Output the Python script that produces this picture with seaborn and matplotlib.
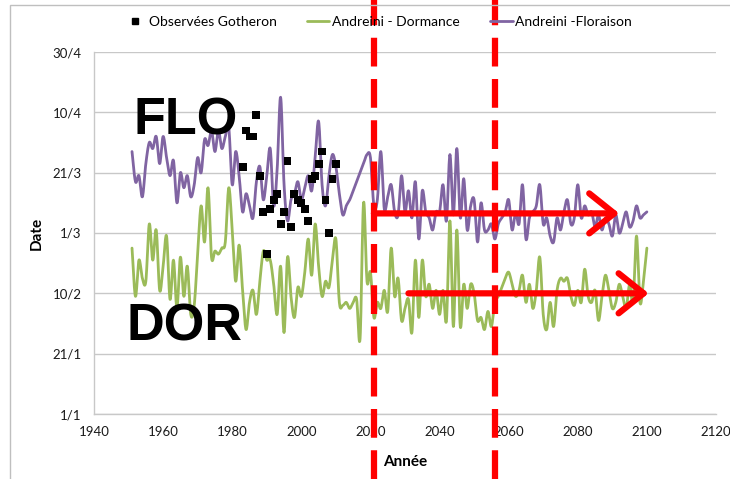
import numpy as np
import pandas as pd
import matplotlib
matplotlib.use("Agg")
import matplotlib.pyplot as plt
from matplotlib.patches import Rectangle
from matplotlib.lines import Line2D
import seaborn as sns

# ---- data -----------------------------------------------------------------
years = list(range(1951, 2101))

# Andreini - Floraison (day of year)
floraison = [
    88, 78, 80, 73, 84, 91, 89, 93, 84, 93,   # 1951-1960
    86, 80, 85, 71, 81, 76, 80, 73, 77, 86,   # 1961-1970
    81, 92, 90, 95, 88, 95, 89, 93, 96, 77,   # 1971-1980
    88, 80, 68, 74, 70, 66, 78, 83, 72, 80,   # 1981-1990
    89, 70, 82, 106, 77, 65, 72, 74, 78, 72,  # 1991-2000
    76, 80, 75, 86, 98, 77, 70, 80, 87, 83,   # 2001-2010
    74, 67, 70, 72, 75, 78, 81, 84, 87, 86,   # 2011-2020
    70, 72, 88, 69, 73, 77, 68, 67, 80, 68,   # 2021-2030
    75, 66, 78, 59, 75, 68, 66, 62, 68, 68,   # 2031-2040
    77, 65, 87, 67, 89, 66, 79, 62, 70, 72,   # 2041-2050
    58, 71, 62, 62, 64, 59, 64, 66, 68, 72,   # 2051-2060
    62, 68, 64, 77, 59, 66, 68, 70, 77, 64,   # 2061-2070
    66, 60, 58, 66, 62, 68, 72, 64, 66, 77,   # 2071-2080
    66, 70, 67, 68, 63, 67, 62, 66, 64, 60,   # 2081-2090
    67, 61, 64, 68, 63, 65, 70, 66, 67, 68,   # 2091-2100
]

# Andreini - Dormance (day of year)
dormance = [
    56, 40, 52, 46, 45, 64, 52, 62, 42, 50,   # 1951-1960
    60, 39, 52, 36, 53, 40, 50, 34, 37, 54,   # 1961-1970
    70, 58, 76, 53, 55, 54, 56, 58, 76, 62,   # 1971-1980
    45, 57, 42, 29, 38, 42, 34, 45, 55, 52,   # 1981-1990
    52, 44, 34, 50, 28, 53, 40, 33, 43, 40,   # 1991-2000
    48, 59, 47, 64, 50, 40, 45, 43, 52, 59,   # 2001-2010
    38, 37, 38, 36, 38, 39, 26, 71, 45, 48,   # 2011-2020
    33, 38, 36, 42, 35, 56, 40, 46, 32, 36,   # 2021-2030
    39, 28, 52, 33, 52, 40, 44, 36, 42, 34,   # 2031-2040
    42, 32, 65, 30, 62, 30, 44, 36, 44, 41,   # 2041-2050
    32, 33, 29, 35, 30, 38, 40, 43, 46, 48,   # 2051-2060
    44, 40, 42, 47, 38, 44, 36, 42, 53, 34,   # 2061-2070
    29, 38, 30, 42, 46, 45, 46, 40, 37, 42,   # 2071-2080
    38, 49, 40, 38, 42, 32, 40, 47, 42, 36,   # 2081-2090
    38, 44, 40, 36, 44, 38, 60, 38, 45, 56,   # 2091-2100
]

# Observed flowering dates at Gotheron
obs_years = list(range(1983, 2011))
obs_days = [83, 95, 93, 93, 100, 80, 68, 54, 69, 72,
            74, 64, 68, 85, 63, 74, 72, 71, 69, 65,
            79, 80, 84, 88, 72, 61, 79, 84]

ytick_days = [1, 21, 41, 61, 81, 101, 121]
ytick_labels = ["1/1", "21/1", "10/2", "1/3", "21/3", "10/4", "30/4"]
xtick_years = list(range(1940, 2121, 20))

# period markers and trend arrows (year, day)
periods = [2021, 2056]
arrow_flo = (2021, 2092, 67.5)
arrow_dor = (2031, 2100.5, 41)


def smooth(x, y, n=12):
    """Catmull-Rom interpolation, like a smoothed line chart."""
    x = np.asarray(x, float)
    y = np.asarray(y, float)
    px = np.concatenate([[2 * x[0] - x[1]], x, [2 * x[-1] - x[-2]]])
    py = np.concatenate([[2 * y[0] - y[1]], y, [2 * y[-1] - y[-2]]])
    t = np.linspace(0, 1, n, endpoint=False)
    xs, ys = [], []
    for i in range(1, len(px) - 2):
        for arr, out in ((px, xs), (py, ys)):
            p0, p1, p2, p3 = arr[i - 1], arr[i], arr[i + 1], arr[i + 2]
            out.append(0.5 * ((2 * p1) + (-p0 + p2) * t
                              + (2 * p0 - 5 * p1 + 4 * p2 - p3) * t ** 2
                              + (-p0 + 3 * p1 - 3 * p2 + p3) * t ** 3))
    xs.append([x[-1]])
    ys.append([y[-1]])
    return np.concatenate(xs), np.concatenate(ys)


# ---- figure ---------------------------------------------------------------
sns.set_theme(style="white")
plt.rcParams["font.family"] = ["Lato", "DejaVu Sans"]
plt.rcParams["text.color"] = "black"

W, H = 730, 479
fig = plt.figure(figsize=(W / 100, H / 100), dpi=100)
ax = fig.add_axes([94 / W, 1 - 414 / H, (716 - 94) / W, (414 - 52) / H])

grid_c = "#c8c8c8"
green = "#9bbb59"
purple = "#8064a2"

xd, yd = smooth(years, dormance)
sns.lineplot(x=xd, y=yd, ax=ax, color=green, lw=2.0, sort=False,
             estimator=None, zorder=3)
xf, yf = smooth(years, floraison)
sns.lineplot(x=xf, y=yf, ax=ax, color=purple, lw=2.0, sort=False,
             estimator=None, zorder=3)
sns.scatterplot(x=obs_years, y=obs_days, ax=ax, color="black", marker="s",
                s=32, edgecolor="none", zorder=4)

ax.set_xlim(1940, 2120)
ax.set_ylim(1, 121)
ax.set_xticks(xtick_years)
ax.set_yticks(ytick_days)
ax.set_yticklabels(ytick_labels)
ax.yaxis.grid(True, color=grid_c, lw=1.0)
ax.set_axisbelow(True)
for s in ("top", "right"):
    ax.spines[s].set_visible(False)
for s in ("left", "bottom"):
    ax.spines[s].set_color(grid_c)
    ax.spines[s].set_linewidth(1.0)
ax.tick_params(axis="both", which="major", direction="out", length=5,
               width=1, color=grid_c, labelsize=9.5, labelcolor="#1a1a1a",
               pad=4)
ax.set_xlabel("Année", fontsize=11, fontweight="bold", labelpad=12,
              color="black")
ax.set_ylabel("Date", fontsize=11, fontweight="bold", labelpad=6,
              color="black")

# big stage labels
ax.text(1951.3, 93.5, "FLO", fontsize=37.5, fontweight="bold",
        family="Liberation Sans", va="baseline", ha="left", color="black",
        zorder=5)
ax.text(1949.5, 25.5, "DOR", fontsize=37.5, fontweight="bold",
        family="Liberation Sans", va="baseline", ha="left", color="black",
        zorder=5)

# period boundaries running across the whole chart
ymin = -(H - 414) / (414 - 52)
ymax = 1 + 52 / (414 - 52)
for yr in periods:
    ax.axvline(yr, ymin=ymin, ymax=ymax, color="red", lw=4.5,
               linestyle=(0, (4.6, 2.0)), clip_on=False, zorder=6)

# trend arrows
for x0, x1, d in (arrow_flo, arrow_dor):
    ax.annotate("", xy=(x1, d), xytext=(x0, d),
                arrowprops=dict(arrowstyle="->,head_length=0.6,head_width=0.48",
                                color="red", lw=4.5, mutation_scale=30,
                                shrinkA=0, shrinkB=0),
                zorder=7)

# legend
handles = [
    Line2D([], [], color="black", marker="s", ls="none", markersize=5),
    Line2D([], [], color=green, lw=2),
    Line2D([], [], color=purple, lw=2),
]
labels = ["Observées Gotheron", "Andreini - Dormance", "Andreini -Floraison"]
fig.legend(handles, labels, loc="center", bbox_to_anchor=(378 / W, 1 - 22 / H),
           ncol=3, frameon=False, fontsize=10, handlelength=1.6,
           handletextpad=0.2, columnspacing=2.2, labelcolor="black")

# chart-area frame
fig.patches.append(Rectangle((10 / W, -0.05), 1.0, 1 - 5 / H + 0.05,
                             transform=fig.transFigure, fill=False,
                             edgecolor="#bfbfbf", lw=1.0))

fig.savefig("out.png", dpi=100)
